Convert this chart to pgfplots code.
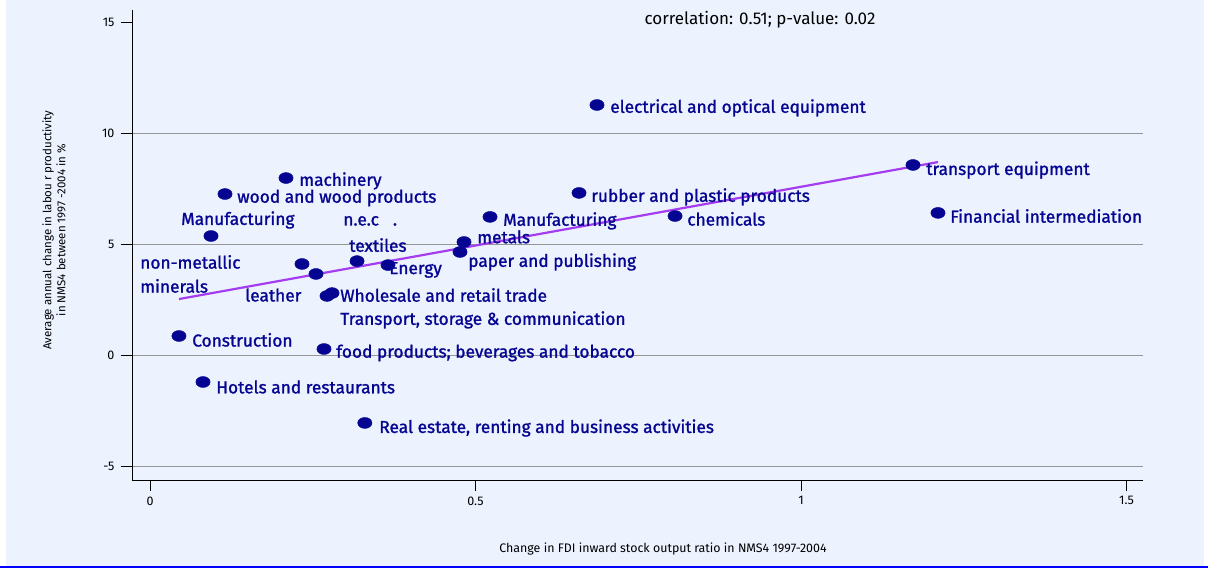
\documentclass[border=0pt]{standalone}
\usepackage{pgfplots}
\pgfplotsset{compat=1.18}
\usepackage{fontspec}
\setmainfont{Fira Sans}
\newfontfamily\labfont{Fira Sans}[FakeBold=1.3]
\definecolor{bgblue}{RGB}{236,243,255}
\definecolor{navy}{RGB}{5,5,145}
\definecolor{fitpurple}{RGB}{165,60,240}
\definecolor{gridgray}{RGB}{150,150,150}
\begin{document}
\begin{tikzpicture}
\fill[bgblue] (6pt,3pt) rectangle (1204pt,569pt);
\draw[blue, line width=2pt] (0pt,2pt) -- (1208pt,2pt);
\begin{axis}[
  at={(132pt,89pt)}, anchor=south west,
  scale only axis, width=1011pt, height=470pt,
  xmin=-0.02765, xmax=1.5253, ymin=-5.63, ymax=15.54,
  axis lines=left, axis line style={-, black, line width=0.8pt},
  xtick={0,0.5,1,1.5}, xticklabels={0,0.5,1,1.5},
  ytick={-5,0,5,10}, extra y ticks={15}, extra y tick style={grid=none},
  ymajorgrids, grid style={gridgray, line width=0.7pt},
  tick align=outside, major tick length=11pt,
  tick style={black, line width=0.7pt},
  tick label style={font=\fontsize{12.5}{14}\selectfont},
  /pgf/number format/assume math mode=true,
  xticklabel style={yshift=-2pt},
  yticklabel style={xshift=-3pt},
  clip=false,
  every node/.style={inner sep=0pt},
]
\addplot[fitpurple, line width=2.2pt] coordinates {(0.0445,2.52) (1.2104,8.69)};
\addplot[only marks, mark=*, mark size=5.5pt, mark options={fill=navy, draw=navy, xscale=1.3}] coordinates {
(0.0445,0.856) (0.0814,-1.216) (0.0937,5.36) (0.1152,7.25) (0.2089,7.97)
(0.2335,4.10) (0.2550,3.65) (0.3180,4.23) (0.3656,4.05) (0.2796,2.79)
(0.2719,2.66) (0.2673,0.27) (0.3300,-3.06) (0.4823,5.09) (0.4762,4.64)
(0.5223,6.22) (0.6590,7.30) (0.6866,11.26) (0.8065,6.26) (1.1720,8.56)
(1.2104,6.40)};
\begin{scope}[every node/.append style={anchor=west, text=navy, font=\labfont\fontsize{17.3}{19}\selectfont}]
\node at (axis cs:0.7016,11.13) {electrical and optical equipment};
\node at (axis cs:1.187,8.33) {transport equipment};
\node at (axis cs:1.2239,6.26) {Financial intermediation};
\node at (axis cs:0.8199,6.13) {chemicals};
\node at (axis cs:0.6724,7.12) {rubber and plastic products};
\node at (axis cs:0.5372,6.04) {Manufacturing};
\node at (axis cs:0.4973,5.32) {metals};
\node at (axis cs:0.4835,4.19) {paper and publishing};
\node at (axis cs:0.2239,7.84) {machinery};
\node at (axis cs:0.1286,7.07) {wood and wood products};
\node at (axis cs:0.0426,6.08) {Manufacturing};
\node at (axis cs:0.2915,6.04) {n.e.c\hspace{14pt}.};
\node at (axis cs:0.3007,4.95) {textiles};
\node at (axis cs:-0.0204,4.19) {non-metallic};
\node at (axis cs:-0.0204,3.11) {minerals};
\node at (axis cs:0.1409,2.70) {leather};
\node at (axis cs:0.3621,3.83) {Energy};
\node at (axis cs:0.2869,2.70) {Wholesale and retail trade};
\node at (axis cs:0.2869,1.58) {Transport, storage \& communication};
\node at (axis cs:0.2807,0.09) {food products; beverages and tobacco};
\node at (axis cs:0.0595,0.68) {Construction};
\node at (axis cs:0.0964,-1.44) {Hotels and restaurants};
\node at (axis cs:0.3468,-3.29) {Real estate, renting and business activities};
\end{scope}
\node[font=\fontsize{17}{19}\selectfont, text=black] at (axis cs:0.937,15.09) {correlation: 0.51; p-value: 0.02};
\node[font=\fontsize{12.4}{14}\selectfont, text=black] at (axis cs:0.788,-8.74) {Change in FDI inward stock output ratio in NMS4 1997-2004};
\node[font=\fontsize{11.5}{14}\selectfont, text=black, rotate=90, align=center] at (axis cs:-0.1475,5.63) {Average annual change in labou r productivity\\in NMS4 between 1997 -2004 in \%};
\end{axis}
\pgfresetboundingbox
\path (0,0) rectangle (1208pt,569pt);
\end{tikzpicture}
\end{document}
